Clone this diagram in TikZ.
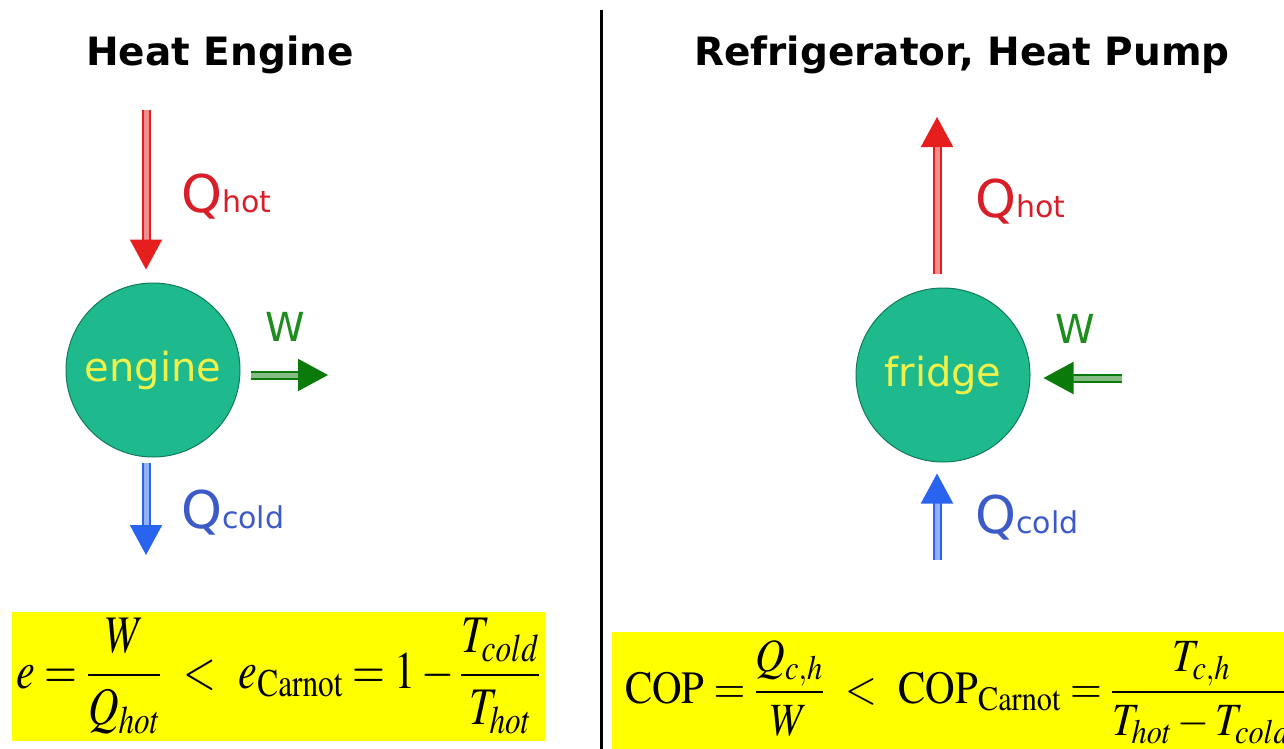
\documentclass[tikz,border=0pt]{standalone}
\usepackage{graphicx}
\usepackage{mathptmx}
\usepackage[no-math]{fontspec}
\newfontfamily\comicfont{DejaVu Sans}
\usetikzlibrary{arrows.meta, positioning}
\definecolor{hotred}{HTML}{E61E1E}
\definecolor{qred}{HTML}{D81E28}
\definecolor{wgreen}{HTML}{0A7A0A}
\definecolor{wtext}{HTML}{1E8C1E}
\definecolor{coldblue}{HTML}{2864F0}
\definecolor{qblue}{HTML}{3C5AC8}
\definecolor{unitteal}{HTML}{1EB98C}
\definecolor{unitedge}{HTML}{117A5C}
\definecolor{unittext}{HTML}{EEF24A}
\definecolor{boxyellow}{HTML}{FFFF00}
\newcommand{\qsub}[1]{{\fontsize{30}{30}\selectfont #1}}
\tikzset{
  headline/.style = {font=\comicfont\bfseries\fontsize{39}{40}\selectfont,
                     anchor=base, inner sep=0pt},
  device/.style   = {circle, fill=unitteal, draw=unitedge, line width=1pt,
                     minimum size=174pt, inner sep=0pt, text=unittext,
                     font=\comicfont\fontsize{40}{40}\selectfont},
  heatflow/.style = {draw=#1, double=#1!50!white, line width=2pt,
                     double distance=5pt, -{Triangle[length=30pt, width=32pt]}},
  workflow/.style = {heatflow=wgreen},
  qlab/.style     = {font=\comicfont\fontsize{52}{52}\selectfont,
                     anchor=base west, inner sep=0pt},
  wlab/.style     = {font=\comicfont\fontsize{40}{40}\selectfont, text=wtext,
                     anchor=base, inner sep=0pt},
  formbox/.style  = {fill=boxyellow, inner sep=0pt},
  formula/.style  = {font=\fontsize{44}{48}\selectfont, inner sep=0pt},
  divider/.style  = {draw=black, line width=3pt},
}

\begin{document}
\begin{tikzpicture}[x=1pt, y=-1pt, line cap=butt]
  \useasboundingbox (0,0) rectangle (1284,749);
  % left half: heat engine
  \node[headline] (hetitle) at (220,66) {Heat Engine};
  \node[device] (engine) at (153,370) {engine};
  \coordinate (hotsrc) at (146,110);
  \coordinate (coldsink) at (146,555);
  \coordinate (wout) at (328,375);
  \draw[heatflow=hotred, shorten >=13pt] (hotsrc) -- (hotsrc |- engine.north);
  \draw[heatflow=coldblue, shorten <=5pt] (hotsrc |- engine.south) -- (coldsink);
  \draw[workflow, shorten <=10pt] (engine.east |- wout) -- (wout);
  \node[qlab, text=qred] (hotlabl) at (181,212) {Q\qsub{hot}};
  \node[qlab, text=qblue] (coldlabl) at (181,528) {Q\qsub{cold}};
  \node[wlab] (wlabl) at (285,341) {W};
  \node[formbox, minimum width=533pt, minimum height=129pt] (effbox) at (278.5,676.5) {};
  \node[formula] (efform) at (effbox.center) {\scalebox{0.96}[1.2]%
    {$\displaystyle e=\frac{W}{Q_{hot}}\ <\ e_{\mathrm{Carnot}}=1-\frac{T_{cold}}{T_{hot}}$}};
  % divider
  \coordinate (divtop) at (601,10);
  \coordinate (divbot) at (601,749);
  \draw[divider] (divtop) -- (divbot);
  % right half: refrigerator
  \node[headline] (rftitle) at (962,66) {Refrigerator, Heat Pump};
  \node[device] (fridge) at (943,375) {fridge};
  \coordinate (hotsink) at (937,117);
  \coordinate (coldsrc) at (937,560);
  \coordinate (win) at (1122,378);
  \draw[heatflow=hotred, shorten <=14pt] (hotsink |- fridge.north) -- (hotsink);
  \draw[heatflow=coldblue, shorten >=11pt] (coldsrc) -- (coldsrc |- fridge.south);
  \draw[workflow, shorten >=13pt] (win) -- (fridge.east |- win);
  \node[qlab, text=qred] (hotlabr) at (975,217) {Q\qsub{hot}};
  \node[qlab, text=qblue] (coldlabr) at (975,533) {Q\qsub{cold}};
  \node[wlab] (wlabr) at (1075,343) {W};
  \node[formbox, minimum width=688pt, minimum height=128pt] (copbox) at (956,696) {};
  \node[formula, anchor=west] (copform) at ([xshift=13pt, yshift=4pt]copbox.west) {\scalebox{0.93}[1.05]%
    {$\displaystyle \mathrm{COP}=\frac{Q_{c,h}}{W}\ <\ \mathrm{COP}_{\mathrm{Carnot}}=\frac{T_{c,h}}{T_{hot}-T_{cold}}$}};
\end{tikzpicture}
\end{document}
